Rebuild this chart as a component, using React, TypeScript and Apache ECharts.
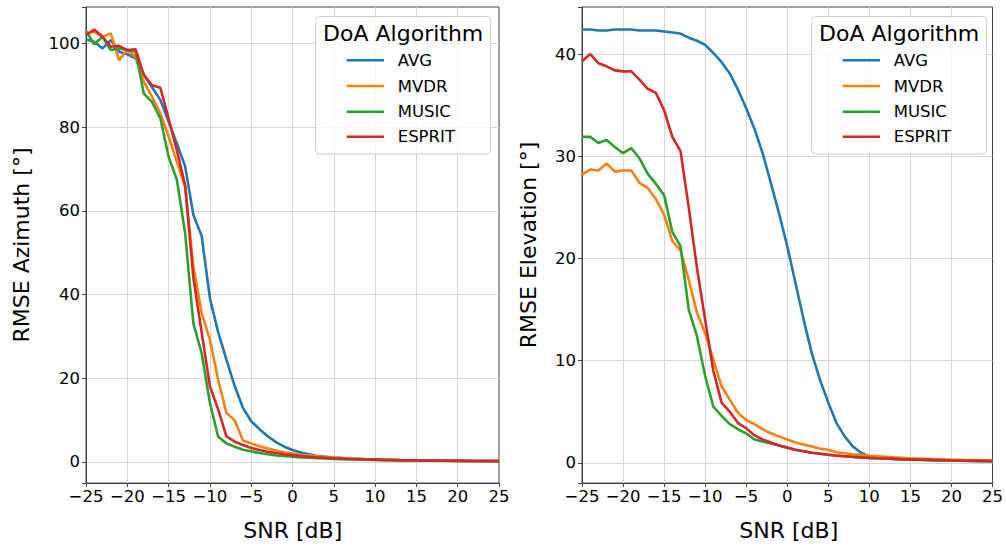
import React, { useEffect, useRef } from "react";
import * as echarts from "echarts";

const snrDb: number[] = Array.from({ length: 51 }, (_, i) => i - 25);
const xTicks = [-25, -20, -15, -10, -5, 0, 5, 10, 15, 20, 25];
const azTicks = [0, 20, 40, 60, 80, 100];
const elTicks = [0, 10, 20, 30, 40];
const algorithms = ["AVG", "MVDR", "MUSIC", "ESPRIT"];
const colors = ["#1f77b4", "#ff7f0e", "#2ca02c", "#d62728"];

// RMSE Azimuth [°], SNR -25..25 dB
const azAVG = [
  101.0, 100.4, 98.8, 100.8, 98.0, 97.4, 96.4, 92.5, 89.5, 86.5, 81.3, 76.1, 70.6,
  59.0, 54.0, 39.1, 31.0, 24.4, 18.1, 12.9, 9.7, 7.8, 6.1, 4.7, 3.6,
  2.8, 2.2, 1.8, 1.4, 1.2, 1.0, 0.9, 0.8, 0.7, 0.6, 0.55, 0.5, 0.45, 0.4, 0.37,
  0.34, 0.32, 0.3, 0.28, 0.26, 0.24, 0.22, 0.2, 0.19, 0.18, 0.17,
];
const azMVDR = [
  102.4, 102.8, 101.6, 102.4, 96.0, 98.4, 96.8, 90.8, 87.2, 83.3, 77.7, 71.7, 65.8,
  46.7, 35.6, 29.2, 19.6, 11.7, 9.9, 5.1, 4.4, 3.7, 3.2, 2.7, 2.3,
  2.0, 1.7, 1.5, 1.3, 1.15, 1.0, 0.9, 0.8, 0.7, 0.62, 0.56, 0.5, 0.45, 0.4, 0.37,
  0.34, 0.32, 0.3, 0.28, 0.26, 0.24, 0.22, 0.2, 0.19, 0.18, 0.17,
];
const azMUSIC = [
  103.0, 99.8, 101.6, 98.4, 98.8, 98.4, 98.0, 88.0, 86.0, 82.1, 72.9, 67.4, 54.7,
  33.0, 26.0, 14.1, 6.0, 4.4, 3.6, 2.9, 2.5, 2.1, 1.8, 1.5, 1.4,
  1.2, 1.05, 0.95, 0.85, 0.78, 0.7, 0.64, 0.58, 0.53, 0.48, 0.44, 0.4, 0.37, 0.34, 0.32,
  0.3, 0.28, 0.26, 0.24, 0.22, 0.21, 0.2, 0.19, 0.18, 0.17, 0.16,
];
const azESPRIT = [
  102.0, 103.3, 101.6, 99.2, 99.4, 98.4, 98.6, 92.5, 90.0, 89.4, 82.0, 74.5, 66.0,
  44.0, 31.0, 18.1, 12.5, 6.1, 4.8, 4.0, 3.3, 2.8, 2.4, 2.1, 1.8,
  1.6, 1.4, 1.2, 1.05, 0.93, 0.83, 0.75, 0.68, 0.62, 0.56, 0.51, 0.46, 0.42, 0.38, 0.35,
  0.32, 0.3, 0.28, 0.26, 0.24, 0.22, 0.21, 0.2, 0.19, 0.18, 0.17,
];

// RMSE Elevation [°], SNR -25..25 dB
const elAVG = [
  42.4, 42.4, 42.3, 42.3, 42.4, 42.4, 42.4, 42.3, 42.3, 42.3, 42.2, 42.1, 42.0,
  41.6, 41.3, 40.9, 40.1, 39.2, 38.1, 36.5, 34.7, 32.7, 30.3, 27.4, 24.4,
  21.2, 17.6, 14.0, 10.7, 8.1, 5.9, 3.9, 2.6, 1.6, 1.0, 0.65,
  0.5, 0.45, 0.4, 0.37, 0.34, 0.32, 0.3, 0.28, 0.26, 0.24, 0.22, 0.2, 0.19, 0.18, 0.17,
];
const elMVDR = [
  28.2, 28.7, 28.6, 29.3, 28.5, 28.6, 28.6, 27.4, 26.9, 25.8, 24.3, 21.7, 20.8,
  17.9, 14.7, 12.7, 10.1, 7.5, 6.2, 4.9, 4.2, 3.8, 3.3, 2.9, 2.6,
  2.3, 2.0, 1.8, 1.6, 1.4, 1.3, 1.05, 0.95, 0.85, 0.8, 0.7,
  0.65, 0.6, 0.55, 0.5, 0.45, 0.42, 0.4, 0.37, 0.35, 0.32, 0.3, 0.28, 0.26, 0.25, 0.24,
];
const elMUSIC = [
  31.9, 31.9, 31.3, 31.6, 30.9, 30.3, 30.8, 29.8, 28.3, 27.3, 26.2, 22.6, 21.2,
  15.0, 12.4, 8.5, 5.5, 4.6, 3.8, 3.3, 2.9, 2.3, 2.1, 1.9, 1.7,
  1.5, 1.3, 1.15, 1.0, 0.9, 0.8, 0.7, 0.65, 0.6, 0.55, 0.5,
  0.46, 0.43, 0.4, 0.37, 0.35, 0.32, 0.3, 0.28, 0.26, 0.24, 0.22, 0.21, 0.2, 0.19, 0.18,
];
const elESPRIT = [
  39.3, 40.0, 39.1, 38.8, 38.4, 38.3, 38.3, 37.5, 36.6, 36.2, 34.5, 31.9, 30.5,
  25.0, 19.1, 14.0, 9.0, 5.9, 5.0, 3.9, 3.4, 2.7, 2.3, 2.0, 1.7,
  1.5, 1.3, 1.15, 1.0, 0.9, 0.8, 0.72, 0.66, 0.6, 0.55, 0.5,
  0.46, 0.43, 0.4, 0.37, 0.35, 0.32, 0.3, 0.28, 0.26, 0.24, 0.22, 0.21, 0.2, 0.19, 0.18,
];

const azSeries = [azAVG, azMVDR, azMUSIC, azESPRIT];
const elSeries = [elAVG, elMVDR, elMUSIC, elESPRIT];

const FONT = "DejaVu Sans";
const minus = (v: number) => String(v).replace("-", "\u2212");

export default function App() {
  const ref = useRef<HTMLDivElement>(null);
  useEffect(() => {
    if (!ref.current) return;
    const chart = echarts.init(ref.current, undefined, { renderer: "svg" });

    const grids = [
      { left: 86, top: 7, width: 413, height: 476 },
      { left: 582, top: 7, width: 413, height: 476 },
    ];

    const xAxisBase = (gi: number) => ({
      type: "value",
      gridIndex: gi,
      min: -25,
      max: 25,
      interval: 5,
      axisLine: { show: true, onZero: false, lineStyle: { color: "#444", width: 1 } },
      axisTick: { show: true, length: 4, lineStyle: { color: "#444" } },
      axisLabel: {
        margin: 5,
        color: "#000",
        fontFamily: FONT,
        fontSize: 16.5,
        formatter: (v: number) => (xTicks.includes(v) ? minus(v) : ""),
      },
      splitLine: { show: true, showMinLine: false, showMaxLine: false, lineStyle: { color: "#d6d6d6", width: 1 } },
    });

    const yAxisBase = (gi: number, min: number, max: number, step: number, ticks: number[]) => ({
      type: "value",
      gridIndex: gi,
      min,
      max,
      splitNumber: 5,
      minInterval: step,
      maxInterval: step,
      axisLine: { show: true, onZero: false, lineStyle: { color: "#444", width: 1 } },
      axisTick: { show: true, length: 4, lineStyle: { color: "#444" } },
      axisLabel: {
        margin: 6,
        color: "#000",
        fontFamily: FONT,
        fontSize: 16.5,
        formatter: (v: number) => {
          const r = Math.round(v);
          return Math.abs(v - r) < 1e-6 && ticks.includes(r) ? minus(r) : "";
        },
      },
      splitLine: { show: true, showMinLine: false, showMaxLine: false, lineStyle: { color: "#d6d6d6", width: 1 } },
    });

    const series: any[] = [];
    [azSeries, elSeries].forEach((set, gi) => {
      set.forEach((vals, k) => {
        series.push({
          type: "line",
          name: algorithms[k],
          xAxisIndex: gi,
          yAxisIndex: gi,
          data: snrDb.map((x, i) => [x, vals[i]]),
          showSymbol: false,
          symbol: "none",
          lineStyle: { color: colors[k], width: 2.6 },
          itemStyle: { color: colors[k] },
          z: 3 + k,
        });
      });
    });

    const legendGraphic = (x0: number) => {
      const els: any[] = [
        {
          type: "rect",
          shape: { x: x0, y: 16.5, width: 175, height: 137.5, r: 4 },
          style: { fill: "rgba(255,255,255,0.8)", stroke: "#cccccc", lineWidth: 1 },
          z: 100,
        },
        {
          type: "text",
          x: x0 + 87.5,
          y: 33,
          style: {
            text: "DoA Algorithm",
            fontFamily: FONT,
            fontSize: 22,
            fill: "#000",
            align: "center",
            verticalAlign: "middle",
          },
          z: 101,
        },
      ];
      const rows = [60.3, 86, 111.7, 136.7];
      algorithms.forEach((name, k) => {
        els.push({
          type: "line",
          shape: { x1: x0 + 31, y1: rows[k], x2: x0 + 68.3, y2: rows[k] },
          style: { stroke: colors[k], lineWidth: 2.6 },
          z: 101,
        });
        els.push({
          type: "text",
          x: x0 + 82,
          y: rows[k],
          style: {
            text: name,
            fontFamily: FONT,
            fontSize: 16.5,
            fill: "#000",
            align: "left",
            verticalAlign: "middle",
          },
          z: 101,
        });
      });
      return els;
    };

    const axisTitles: any[] = [
      { text: "SNR [dB]", x: 292.8, y: 530, rot: 0 },
      { text: "SNR [dB]", x: 788.8, y: 530, rot: 0 },
      { text: "RMSE Azimuth [°]", x: 21, y: 245, rot: Math.PI / 2 },
      { text: "RMSE Elevation [°]", x: 528, y: 245, rot: Math.PI / 2 },
    ].map((t) => ({
      type: "text",
      x: t.x,
      y: t.y,
      rotation: t.rot,
      style: {
        text: t.text,
        fontFamily: FONT,
        fontSize: 22,
        fill: "#000",
        align: "center",
        verticalAlign: "middle",
      },
    }));

    chart.setOption({
      animation: false,
      backgroundColor: "#ffffff",
      textStyle: { fontFamily: FONT },
      grid: grids.map((g) => ({
        ...g,
        show: true,
        borderColor: "#444",
        borderWidth: 1,
        backgroundColor: "transparent",
        containLabel: false,
      })),
      xAxis: [xAxisBase(0), xAxisBase(1)],
      yAxis: [
        yAxisBase(0, -5.07, 108.7, 20, azTicks),
        yAxisBase(1, -1.96, 44.6, 10, elTicks),
      ],
      series,
      graphic: [...axisTitles, ...legendGraphic(315.7), ...legendGraphic(811.7)],
    });

    return () => chart.dispose();
  }, []);

  return (
    <div
      ref={ref}
      style={{ position: "fixed", left: 0, top: 0, width: 1006, height: 548 }}
    />
  );
}
